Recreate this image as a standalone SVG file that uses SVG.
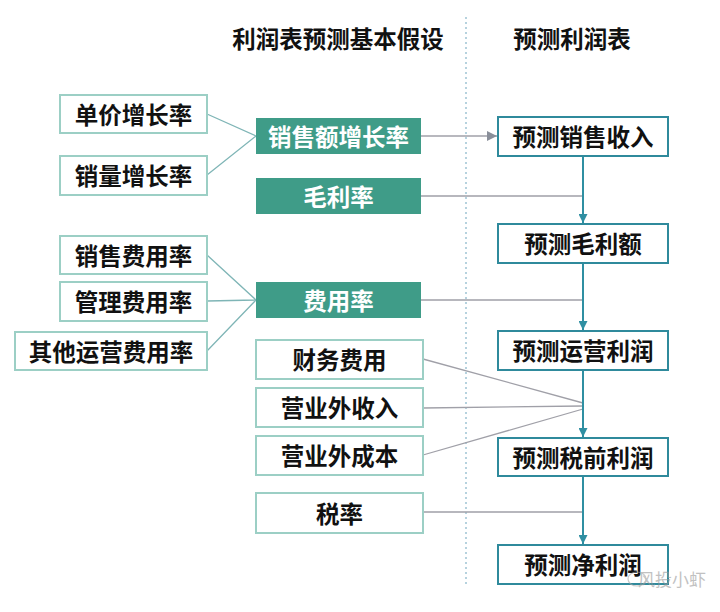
<svg xmlns="http://www.w3.org/2000/svg" width="720" height="612" viewBox="0 0 720 612">
<defs>
<style>
text{font-family:"Noto Sans CJK SC","Noto Sans",sans-serif;font-weight:bold;text-anchor:middle;dominant-baseline:central}
.hd{font-size:23.5px;fill:#111}
.t{font-size:23.5px;fill:#111}
.tw{font-size:23.5px;fill:#fff}
.wb{fill:#fff;stroke:#9ccfc5;stroke-width:2}
.gb{fill:#3f9c88;stroke:none}
.rb{fill:#fff;stroke:#2f8a9c;stroke-width:2}
.lc{stroke:#7fb5b6;stroke-width:1.3;fill:none}
.gc{stroke:#a0a0a8;stroke-width:1.3;fill:none}
.vc{stroke:#2f8fa2;stroke-width:2;fill:none}
</style>
<marker id="ag" viewBox="0 0 10 10" refX="10" refY="5" markerWidth="10" markerHeight="10" markerUnits="userSpaceOnUse" orient="auto"><path d="M0,0L10,5L0,10z" fill="#8a8f9a"/></marker>
<marker id="at" viewBox="0 0 10 10" refX="10" refY="5" markerWidth="9" markerHeight="9" markerUnits="userSpaceOnUse" orient="auto"><path d="M0,0L10,5L0,10z" fill="#2f8fa2"/></marker>
</defs>
<rect width="720" height="612" fill="#fff"/>
<line x1="466" y1="17" x2="466" y2="586" stroke="#9ec3d3" stroke-width="1.5" stroke-dasharray="2,3"/>
<text class="hd" x="338" y="38">利润表预测基本假设</text>
<text class="hd" x="572" y="38">预测利润表</text>
<g id="connectors">
<path class="lc" d="M207,114L256,136M207,175L256,136"/>
<path class="lc" d="M207,255L256,300M207,301L256,300M207,351L256,300"/>
<path class="gc" d="M421,136L497,136" marker-end="url(#ag)"/>
<path class="gc" d="M421,196L583,196M421,300L583,300"/>
<path class="gc" d="M423,359L583,403M423,408L583,406M423,455L583,409M423,512L583,512"/>
<path class="vc" d="M583,156L583,223" marker-end="url(#at)"/>
<path class="vc" d="M583,263L583,330" marker-end="url(#at)"/>
<path class="vc" d="M583,370L583,437" marker-end="url(#at)"/>
<path class="vc" d="M583,476L583,544" marker-end="url(#at)"/>
</g>
<g id="n1"><rect class="wb" x="60" y="95" width="147" height="38"/><text class="t" x="133.5" y="113.5">单价增长率</text></g>
<g id="n2"><rect class="wb" x="60" y="156" width="147" height="39"/><text class="t" x="133.5" y="175">销量增长率</text></g>
<g id="n3"><rect class="gb" x="256" y="118" width="165" height="36"/><text class="tw" x="338.5" y="135.5">销售额增长率</text></g>
<g id="n4"><rect class="gb" x="256" y="178" width="165" height="36"/><text class="tw" x="338.5" y="195.5">毛利率</text></g>
<g id="n5"><rect class="wb" x="60" y="236" width="147" height="38"/><text class="t" x="133.5" y="254.5">销售费用率</text></g>
<g id="n6"><rect class="wb" x="60" y="282" width="147" height="39"/><text class="t" x="133.5" y="301">管理费用率</text></g>
<g id="n7"><rect class="wb" x="15" y="332" width="192" height="38"/><text class="t" x="111" y="350.5">其他运营费用率</text></g>
<g id="n8"><rect class="gb" x="256" y="282" width="165" height="36"/><text class="tw" x="338.5" y="299.5">费用率</text></g>
<g id="n9"><rect class="wb" x="256" y="340" width="167" height="39"/><text class="t" x="339.5" y="359">财务费用</text></g>
<g id="n10"><rect class="wb" x="256" y="388" width="167" height="39"/><text class="t" x="339.5" y="407">营业外收入</text></g>
<g id="n11"><rect class="wb" x="256" y="436" width="167" height="39"/><text class="t" x="339.5" y="455">营业外成本</text></g>
<g id="n12"><rect class="wb" x="256" y="493" width="167" height="40"/><text class="t" x="339.5" y="512.5">税率</text></g>
<g id="r1"><rect class="rb" x="498" y="117" width="170" height="39"/><text class="t" x="583" y="136">预测销售收入</text></g>
<g id="r2"><rect class="rb" x="498" y="224" width="170" height="39"/><text class="t" x="583" y="243">预测毛利额</text></g>
<g id="r3"><rect class="rb" x="498" y="331" width="170" height="39"/><text class="t" x="583" y="350">预测运营利润</text></g>
<g id="r4"><rect class="rb" x="498" y="438" width="170" height="38"/><text class="t" x="583" y="456.5">预测税前利润</text></g>
<g id="r5"><rect class="rb" x="498" y="545" width="170" height="39"/><text class="t" x="583" y="564">预测净利润</text></g>
<g id="watermark" opacity="0.6">
<ellipse cx="637" cy="579" rx="9" ry="7" fill="none" stroke="#aaa" stroke-width="1.2"/>
<text x="672" y="578" style="font-size:17px;font-weight:normal;fill:#999">风投小虾</text>
</g>
</svg>
